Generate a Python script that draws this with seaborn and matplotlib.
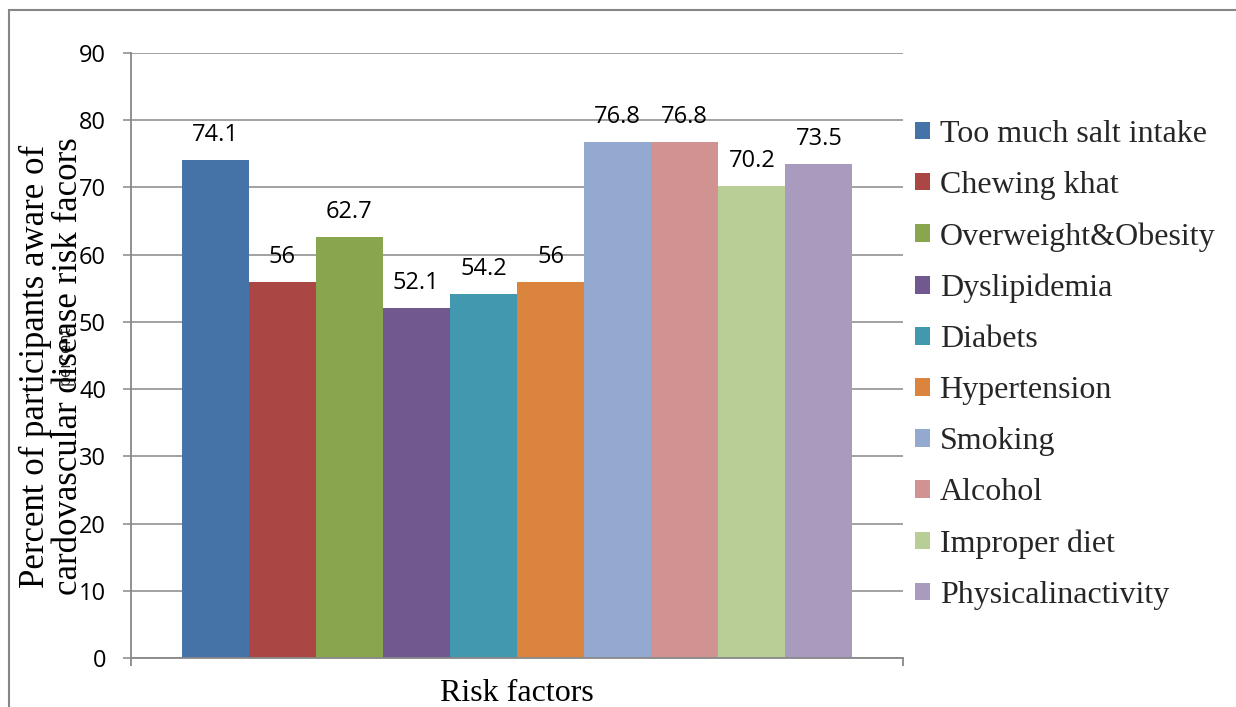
import matplotlib
matplotlib.use("Agg")
import matplotlib.pyplot as plt
from matplotlib.patches import Rectangle, Patch
import seaborn as sns
import pandas as pd

# Awareness of cardiovascular disease risk factors (%)
factors = [
    "Too much salt intake",
    "Chewing khat",
    "Overweight&Obesity",
    "Dyslipidemia",
    "Diabets",
    "Hypertension",
    "Smoking",
    "Alcohol",
    "Improper diet",
    "Physicalinactivity",
]
percent = [74.1, 56, 62.7, 52.1, 54.2, 56, 76.8, 76.8, 70.2, 73.5]
colors = [
    "#4572A7", "#AA4643", "#89A54E", "#71588F", "#4198AF",
    "#DB843D", "#93A9CF", "#D19392", "#B9CD96", "#A99BBD",
]
y_ticks = [0, 10, 20, 30, 40, 50, 60, 70, 80, 90]

df = pd.DataFrame({"group": [""] * len(factors), "factor": factors, "percent": percent})

sns.set_theme(style="white")
plt.rcParams["font.family"] = ["Open Sans", "DejaVu Sans"]

W, H = 1236, 707
fig = plt.figure(figsize=(W / 100, H / 100), dpi=100)
ax = fig.add_axes([131 / W, 1 - 658 / H, (903 - 131) / W, (658 - 53) / H])

sns.barplot(
    data=df, x="group", y="percent", hue="factor", hue_order=factors,
    palette=colors, saturation=1, width=0.869, dodge=True, gap=0,
    linewidth=0, legend=False, errorbar=None, ax=ax,
)

grid_c = "#888888"
ax.set_xlim(-0.5, 0.5)
ax.set_ylim(0, 90)
ax.set_yticks(y_ticks)
ax.set_xticks([-0.5, 0.5], labels=["", ""])
ax.yaxis.grid(True, color=grid_c, linewidth=1.1)
ax.set_axisbelow(True)
for side in ["top", "right"]:
    ax.spines[side].set_visible(False)
for side in ["left", "bottom"]:
    ax.spines[side].set_color(grid_c)
    ax.spines[side].set_linewidth(1.3)
ax.tick_params(axis="y", which="major", direction="out", length=6, width=1.1,
               color=grid_c, pad=12, labelsize=17, labelcolor="black", left=True)
ax.tick_params(axis="x", which="major", direction="out", length=6, width=1.3,
               color=grid_c, bottom=True)

# value labels above each bar
for cont, val in zip(ax.containers, percent):
    bar = cont[0]
    ax.annotate(f"{val:g}", (bar.get_x() + bar.get_width() / 2, bar.get_height()),
                xytext=(0, 13.5), textcoords="offset points",
                ha="center", va="baseline", fontsize=17, color="black")

serif = ["Liberation Serif", "DejaVu Serif"]
ax.set_xlabel("Risk factors", family=serif, fontsize=23, color="black")
ax.xaxis.label.set_va("baseline")
ax.xaxis.set_label_coords(0.5, -(701 - 658) / (658 - 53))

fig.text(52 / W, 1 - 366 / H,
         "Percent of participants aware of\ncardovascular disease risk facors",
         rotation=90, ha="center", va="center", family=serif, fontsize=25,
         linespacing=1.0, color="black")

handles = [Patch(facecolor=c, edgecolor="none") for c in colors]
fig.legend(handles, factors, loc="upper left",
           bbox_to_anchor=(915 / W, 1 - 120 / H), bbox_transform=fig.transFigure,
           frameon=False, borderaxespad=0, borderpad=0,
           prop={"family": serif, "size": 23},
           handlelength=0.47, handleheight=0.47, handletextpad=0.3,
           labelspacing=0.69)

# outer chart frame
fig.patches.append(Rectangle((9 / W, -0.1), 1.2, 1 - 10 / H + 0.1,
                             transform=fig.transFigure, fill=False,
                             edgecolor="#868686", linewidth=1.5))

fig.savefig("out.png", dpi=100, facecolor="white")
